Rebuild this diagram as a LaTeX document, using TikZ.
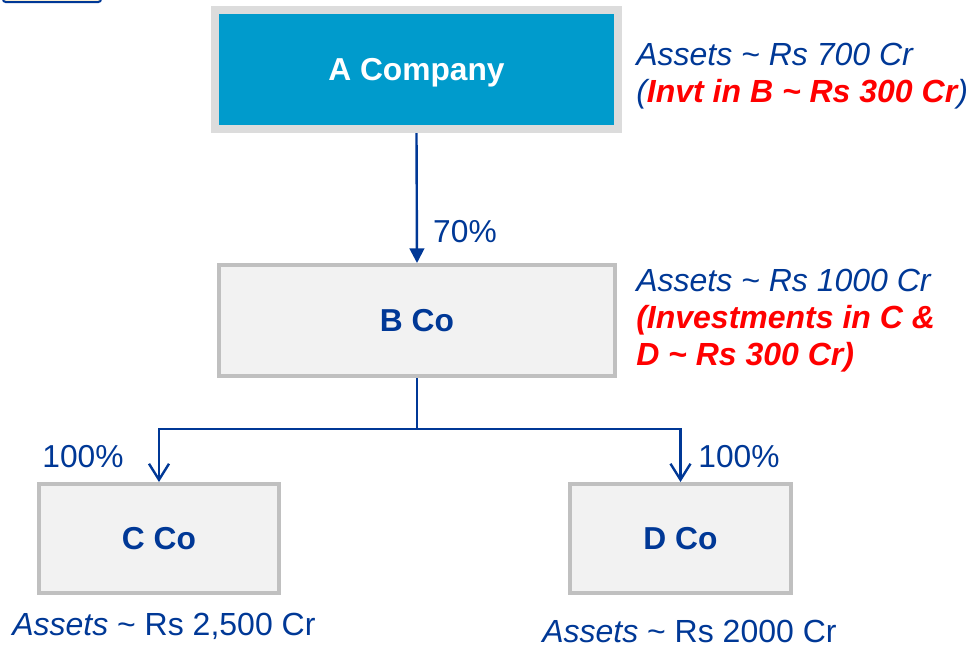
\documentclass[tikz,border=0pt]{standalone}
\usepackage{fontspec}
\setmainfont{Liberation Sans}
\usetikzlibrary{arrows.meta}
\definecolor{dblue}{RGB}{0,56,150}
\definecolor{cblue}{RGB}{0,155,204}
\definecolor{agray}{RGB}{220,220,220}
\definecolor{bgray}{RGB}{192,192,192}
\definecolor{bfill}{RGB}{242,242,242}
\definecolor{cream}{RGB}{250,238,210}
\definecolor{ired}{RGB}{255,0,0}
\tikzset{
  topbox/.style={draw=agray, line width=6pt, fill=cblue, text=white,
    font=\fontsize{23.8}{28}\selectfont\bfseries, inner sep=0pt, text height=17pt, text depth=0pt},
  cobox/.style={draw=bgray, line width=3pt, fill=bfill, text=dblue,
    font=\fontsize{23.8}{28}\selectfont\bfseries, inner sep=0pt, text height=17pt, text depth=0pt},
  conn/.style={draw=dblue, line width=1.8pt},
  pct/.style={text=dblue, font=\fontsize{23.8}{28}\selectfont, inner sep=0pt},
  note/.style={text=dblue, font=\fontsize{24}{27.5}\selectfont, inner sep=0pt, align=left, anchor=base west},
}
\newcommand{\tl}{\textasciitilde}
\begin{document}
\begin{tikzpicture}[x=0.75pt,y=-0.75pt]
\useasboundingbox (0,0) rectangle (972,647);
% cut-off box at top left
\draw[draw=dblue, line width=1.5pt, fill=cream, rounded corners=2pt] (3,-20) rectangle (101,2);
% companies
\node[topbox, minimum width=302.25pt, minimum height=89.25pt] (A) at (416.5,69.5) {A Company};
\node[cobox, minimum width=297pt, minimum height=83.25pt] (B) at (417,320.5) {B Co};
\node[cobox, minimum width=180pt, minimum height=81.75pt] (C) at (159,538.5) {C Co};
\node[cobox, minimum width=165.75pt, minimum height=81.75pt] (D) at (680.5,538.5) {D Co};
% connectors
\draw[conn, -{Triangle[width=11pt,length=11pt]}] (A.south) -- (B.north);
\coordinate (split) at (417,429);
\draw[conn] (B.south) -- (split);
\draw[conn, -{Straight Barb[width=15pt,length=12pt]}] (split) -| (C.north);
\draw[conn, -{Straight Barb[width=15pt,length=12pt]}] (split) -| (D.north);
% percentages
\node[pct] (p1) at (465,232) {70\%};
\node[pct] (p2) at (83,457) {100\%};
\node[pct] (p3) at (739,457) {100\%};
% notes (anchor = baseline of last line)
\node[note] (nA) at (636,102) {\itshape Assets \tl{} Rs 700 Cr\\\itshape (\textcolor{ired}{\bfseries Invt in B \tl{} Rs 300 Cr})};
\node[note] (nB) at (636,365) {\itshape Assets \tl{} Rs 1000 Cr\\\itshape\bfseries\color{ired}(Investments in C \&\\\itshape\bfseries\color{ired}D \tl{} Rs 300 Cr)};
\node[note] (nC) at (12,635) {\textit{Assets} \tl{} Rs 2,500 Cr};
\node[note] (nD) at (542,642) {\textit{Assets} \tl{} Rs 2000 Cr};
\end{tikzpicture}
\end{document}
